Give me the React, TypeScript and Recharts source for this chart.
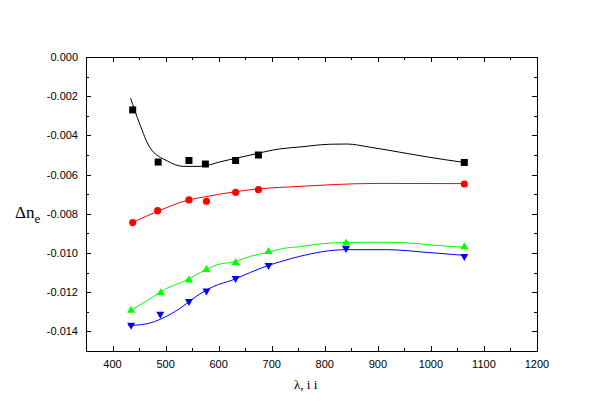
import React from "react";
import { ComposedChart, Line, Scatter, XAxis, YAxis } from "recharts";

// measured points (wavelength nm, birefringence)
const blackPoints = [
  { x: 438, y: -0.0027 },
  { x: 486, y: -0.00536 },
  { x: 544, y: -0.00528 },
  { x: 575, y: -0.00546 },
  { x: 632, y: -0.00528 },
  { x: 675, y: -0.005 },
  { x: 1063, y: -0.00538 },
];
const redPoints = [
  { x: 438, y: -0.00845 },
  { x: 485, y: -0.00784 },
  { x: 544, y: -0.00729 },
  { x: 577, y: -0.00736 },
  { x: 632, y: -0.0069 },
  { x: 675, y: -0.00677 },
  { x: 1063, y: -0.00648 },
];
const greenPoints = [
  { x: 435, y: -0.0129 },
  { x: 491, y: -0.012 },
  { x: 544, y: -0.01135 },
  { x: 577, y: -0.01082 },
  { x: 632, y: -0.01046 },
  { x: 694, y: -0.0099 },
  { x: 840, y: -0.00946 },
  { x: 1063, y: -0.00966 },
];
const bluePoints = [
  { x: 435, y: -0.01371 },
  { x: 490, y: -0.01315 },
  { x: 544, y: -0.0125 },
  { x: 577, y: -0.01197 },
  { x: 632, y: -0.01133 },
  { x: 694, y: -0.01066 },
  { x: 840, y: -0.0098 },
  { x: 1063, y: -0.0102 },
];

// fitted curves
const blackFit = [
  { x: 434, y: -0.0021 },
  { x: 451, y: -0.0034 },
  { x: 470, y: -0.0046 },
  { x: 503, y: -0.0053 },
  { x: 534, y: -0.00558 },
  { x: 566, y: -0.00558 },
  { x: 604, y: -0.00534 },
  { x: 660, y: -0.005 },
  { x: 715, y: -0.00469 },
  { x: 753, y: -0.00459 },
  { x: 811, y: -0.00445 },
  { x: 842, y: -0.00444 },
  { x: 885, y: -0.0046 },
  { x: 942, y: -0.00486 },
  { x: 998, y: -0.00512 },
  { x: 1063, y: -0.00538 },
];
const redFit = [
  { x: 436, y: -0.00847 },
  { x: 486, y: -0.00786 },
  { x: 545, y: -0.00728 },
  { x: 575, y: -0.00713 },
  { x: 632, y: -0.00687 },
  { x: 675, y: -0.00673 },
  { x: 753, y: -0.0066 },
  { x: 816, y: -0.00651 },
  { x: 898, y: -0.00645 },
  { x: 1063, y: -0.00646 },
];
const greenFit = [
  { x: 430, y: -0.013 },
  { x: 470, y: -0.01235 },
  { x: 501, y: -0.01182 },
  { x: 532, y: -0.01147 },
  { x: 566, y: -0.01099 },
  { x: 596, y: -0.01061 },
  { x: 628, y: -0.01045 },
  { x: 660, y: -0.01017 },
  { x: 692, y: -0.00997 },
  { x: 723, y: -0.00976 },
  { x: 753, y: -0.00968 },
  { x: 790, y: -0.00954 },
  { x: 840, y: -0.00946 },
  { x: 900, y: -0.00945 },
  { x: 947, y: -0.00947 },
  { x: 1010, y: -0.00961 },
  { x: 1063, y: -0.00971 },
];
const blueFit = [
  { x: 430, y: -0.0137 },
  { x: 463, y: -0.01362 },
  { x: 495, y: -0.01332 },
  { x: 527, y: -0.01283 },
  { x: 559, y: -0.01219 },
  { x: 591, y: -0.0117 },
  { x: 628, y: -0.01136 },
  { x: 660, y: -0.01099 },
  { x: 692, y: -0.01065 },
  { x: 723, y: -0.01039 },
  { x: 753, y: -0.01017 },
  { x: 840, y: -0.00983 },
  { x: 917, y: -0.00983 },
  { x: 993, y: -0.00997 },
  { x: 1063, y: -0.01012 },
];

const xTicks = [350, 400, 450, 500, 550, 600, 650, 700, 750, 800, 850, 900, 950, 1000, 1050, 1100, 1150, 1200];
const yTicks = [
  0, -0.001, -0.002, -0.003, -0.004, -0.005, -0.006, -0.007, -0.008, -0.009, -0.01, -0.011, -0.012,
  -0.013, -0.014, -0.015,
];

const W = 591;
const H = 414;
const margin = { top: 57, right: 54, bottom: 33, left: 0 };
const axisW = 86;
const axisH = 30;
const plotTop = margin.top;
const plotLeft = margin.left + axisW;
const plotRight = W - margin.right;
const plotBottom = H - margin.bottom - axisH;

const tickFont = "'Liberation Sans', Arial, sans-serif";
const serif = "'Liberation Serif', 'Times New Roman', serif";

const isMajorX = (v: number) => v % 100 === 0;
const isMajorY = (v: number) => {
  const k = Math.round(Math.abs(v) * 1000);
  return k % 2 === 0 && k < 15;
};

// bottom tick also draws the matching tick on the top frame edge (1px filled rects)
function XTick(props: any) {
  const { x, payload } = props;
  const major = isMajorX(payload.value);
  const len = major ? 5 : 3;
  const px = Math.round(x);
  return (
    <g>
      <rect x={px} y={plotBottom - len} width={1} height={len} fill="#000" />
      <rect x={px} y={plotTop} width={1} height={len} fill="#000" />
      {major && (
        <text x={x} y={plotBottom + 17} textAnchor="middle" fontSize={11} fontFamily={tickFont} fill="#000">
          {payload.value}
        </text>
      )}
    </g>
  );
}

// left tick also draws the matching tick on the right frame edge
function YTick(props: any) {
  const { y, payload } = props;
  const major = isMajorY(payload.value);
  const len = major ? 5 : 3;
  const py = Math.round(y);
  return (
    <g>
      <rect x={plotLeft} y={py} width={len} height={1} fill="#000" />
      <rect x={plotRight - len} y={py} width={len} height={1} fill="#000" />
      {major && (
        <text x={plotLeft - 8} y={y + 4} textAnchor="end" fontSize={11} fontFamily={tickFont} fill="#000">
          {payload.value.toFixed(3)}
        </text>
      )}
    </g>
  );
}

const squareShape = (p: any) => <rect x={p.cx - 3.5} y={p.cy - 3.5} width={7} height={7} fill="#000" />;
const circleShape = (p: any) => <circle cx={p.cx} cy={p.cy} r={3.6} fill="#ff0000" />;
const upShape = (p: any) => (
  <polygon
    points={`${p.cx - 4},${p.cy + 3} ${p.cx + 4},${p.cy + 3} ${p.cx},${p.cy - 4}`}
    fill="#00ff00"
  />
);
const downShape = (p: any) => (
  <polygon
    points={`${p.cx - 4},${p.cy - 3} ${p.cx + 4},${p.cy - 3} ${p.cx},${p.cy + 4}`}
    fill="#0000ff"
  />
);

export default function App() {
  return (
    <div style={{ position: "absolute", left: 0, top: 0, width: W, height: H, background: "#fff" }}>
      <ComposedChart width={W} height={H} margin={margin}>
        <XAxis
          type="number"
          dataKey="x"
          domain={[350, 1200]}
          ticks={xTicks}
          interval={0}
          height={axisH}
          tickSize={0}
          tickMargin={0}
          axisLine={false}
          tickLine={false}
          tick={XTick}
          allowDataOverflow
        />
        <YAxis
          type="number"
          dataKey="y"
          domain={[-0.015, 0]}
          ticks={yTicks}
          interval={0}
          width={axisW}
          tickSize={0}
          tickMargin={0}
          axisLine={false}
          tickLine={false}
          tick={YTick}
          allowDataOverflow
        />
        <Line data={blackFit} dataKey="y" type="monotone" stroke="#000" strokeWidth={1} dot={false} activeDot={false} isAnimationActive={false} />
        <Line data={redFit} dataKey="y" type="monotone" stroke="#ff0000" strokeWidth={1} dot={false} activeDot={false} isAnimationActive={false} />
        <Line data={greenFit} dataKey="y" type="monotone" stroke="#00ff00" strokeWidth={1} dot={false} activeDot={false} isAnimationActive={false} />
        <Line data={blueFit} dataKey="y" type="monotone" stroke="#0000ff" strokeWidth={1} dot={false} activeDot={false} isAnimationActive={false} />
        <Scatter data={blackPoints} dataKey="y" shape={squareShape} isAnimationActive={false} />
        <Scatter data={redPoints} dataKey="y" shape={circleShape} isAnimationActive={false} />
        <Scatter data={greenPoints} dataKey="y" shape={upShape} isAnimationActive={false} />
        <Scatter data={bluePoints} dataKey="y" shape={downShape} isAnimationActive={false} />
        <text x={15} y={218} fontFamily={serif} fontSize={17} fill="#000">
          Δn
          <tspan dy={5} fontSize={13}>
            e
          </tspan>
        </text>
        <text x={294} y={389} fontFamily={serif} fontSize={13} fill="#000">
          λ, i i
        </text>
      </ComposedChart>
      {/* plot frame laid over the chart as solid 1px bars */}
      <svg width={W} height={H} style={{ position: "absolute", left: 0, top: 0, pointerEvents: "none" }}>
        <rect x={plotLeft} y={plotTop} width={plotRight - plotLeft + 1} height={1} fill="#000" />
        <rect x={plotLeft} y={plotBottom} width={plotRight - plotLeft + 1} height={1} fill="#000" />
        <rect x={plotLeft} y={plotTop} width={1} height={plotBottom - plotTop + 1} fill="#000" />
        <rect x={plotRight} y={plotTop} width={1} height={plotBottom - plotTop + 1} fill="#000" />
      </svg>
    </div>
  );
}
